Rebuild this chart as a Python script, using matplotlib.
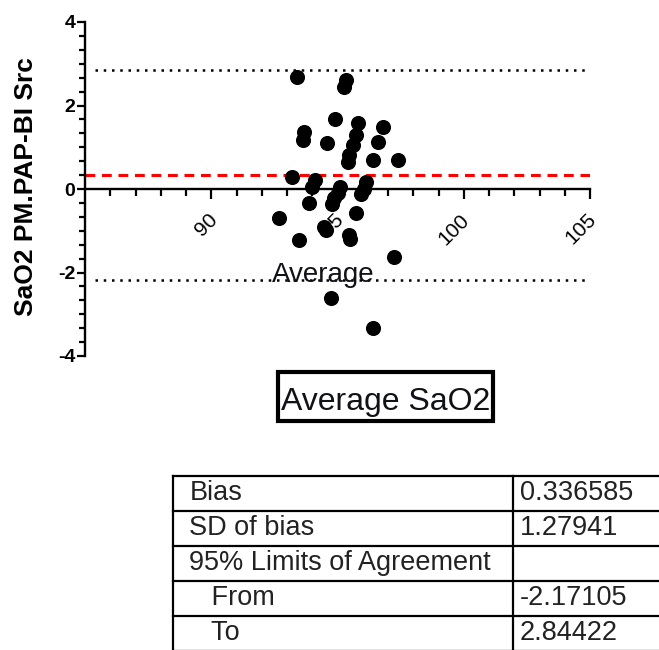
import numpy as np
import matplotlib
matplotlib.use("Agg")
import matplotlib.pyplot as plt
from matplotlib.patches import Rectangle
import matplotlib.transforms as mtransforms

plt.rcParams['font.family'] = ['Liberation Sans', 'DejaVu Sans']
plt.rcParams['axes.unicode_minus'] = False

# Bland-Altman points: average SaO2 vs difference
avg_sao2 = [93.40, 95.35, 95.25, 94.90, 95.82, 96.79, 93.69, 93.62, 94.58, 95.73,
            95.60, 95.47, 95.40, 96.61, 96.39, 97.38, 93.19, 94.10, 94.00, 95.10,
            95.00, 94.86, 94.80, 96.13, 96.05, 95.93, 93.89, 92.70, 95.73, 94.55,
            94.45, 93.49, 95.47, 95.50, 97.22, 94.74, 96.39]
diff_sao2 = [2.69, 2.60, 2.45, 1.67, 1.59, 1.49, 1.37, 1.17, 1.09, 1.29,
             1.05, 0.81, 0.65, 1.13, 0.69, 0.69, 0.29, 0.22, 0.05, 0.05,
             -0.10, -0.22, -0.36, 0.16, 0.00, -0.12, -0.33, -0.70, -0.58, -0.98,
             -0.90, -1.22, -1.10, -1.20, -1.62, -2.62, -3.34]

bias = 0.336585
sd_bias = 1.27941
loa_from = -2.17105
loa_to = 2.84422

xticks = [90, 95, 100, 105]
yticks = [-4, -2, 0, 2, 4]

row_labels = ['Bias', 'SD of bias', '95% Limits of Agreement', '   From', '   To']
row_values = ['0.336585', '1.27941', '', '-2.17105', '2.84422']

fig = plt.figure(figsize=(6.59, 6.50), dpi=100)
ax = fig.add_axes([85/659, 1-356/650, (590-85)/659, (356-22)/650])

ax.set_xlim(85, 105)
ax.set_ylim(-4, 4)

# limits of agreement and bias
ax.hlines([loa_to, loa_from], 85.4, 105, colors='black', linestyles=(0, (1, 2.3)), linewidth=1.8)
ax.hlines(bias, 85, 105, colors='#ff0000', linestyles=(0, (3.2, 2.2)), linewidth=2.2, zorder=2)

ax.text(94.45, -2.22, 'Average', fontsize=20, ha='center', va='baseline', color='#111118', zorder=4)

ax.scatter(avg_sao2, diff_sao2, s=118, color='black', zorder=5, clip_on=False, linewidths=0)

for side in ['top', 'right']:
    ax.spines[side].set_visible(False)
ax.spines['bottom'].set_position(('data', 0))
ax.spines['left'].set_linewidth(1.7)
ax.spines['bottom'].set_linewidth(1.7)

ax.set_xticks(xticks)
ax.set_xticks(np.arange(86, 105, 1), minor=True)
ax.set_yticks(yticks)
ax.set_yticks(np.linspace(-4, 4, 25), minor=True)

ax.tick_params(axis='x', which='major', length=7, width=1.6, pad=13, labelsize=15)
ax.tick_params(axis='x', which='minor', length=5, width=1.6, color='black')
ax.tick_params(axis='y', which='major', length=6, width=1.6, pad=1, labelsize=14)
ax.tick_params(axis='y', which='minor', length=4, width=1.6, color='black')

offset = mtransforms.ScaledTranslation(3/100, 0, fig.dpi_scale_trans)
for lab in ax.get_xticklabels():
    lab.set_rotation(45)
    lab.set_rotation_mode('anchor')
    lab.set_ha('right')
    lab.set_va('center')
    lab.set_transform(lab.get_transform() + offset)
for lab in ax.get_yticklabels():
    lab.set_fontweight('bold')

fig.text(26/659, 1-187/650, 'SaO2 PM.PAP-BI Src', rotation=90, ha='center', va='center',
         fontsize=19, fontweight='bold')

# boxed x-axis title
fig.add_artist(Rectangle((278/659, 1-421/650), (493-278)/659, (421-372)/650,
                         transform=fig.transFigure, fill=False, edgecolor='black', linewidth=3))
fig.text(386/659, 1-410/650, 'Average SaO2', ha='center', va='baseline', fontsize=23, color='#111118')

# results table
tab = fig.add_axes([173/659, 1-651/650, (720-173)/659, (651-476)/650])
tab.set_xlim(0, 1)
tab.set_ylim(len(row_labels), 0)
tab.axis('off')
div = (513-173)/(720-173)
for i in range(len(row_labels) + 1):
    tab.plot([0, 1], [i, i], color='black', linewidth=1.6, clip_on=False)
tab.plot([0, 0], [0, len(row_labels)], color='black', linewidth=1.6, clip_on=False)
tab.plot([div, div], [0, len(row_labels)], color='black', linewidth=1.6, clip_on=False)
for i, (lab, val) in enumerate(zip(row_labels, row_values)):
    tab.text(0.03, i + 0.69, lab, fontsize=19.5, va='baseline', ha='left', color='#222222')
    tab.text(div + 0.012, i + 0.69, val, fontsize=19.5, va='baseline', ha='left', color='#222222')

fig.savefig('out.png', dpi=100)
